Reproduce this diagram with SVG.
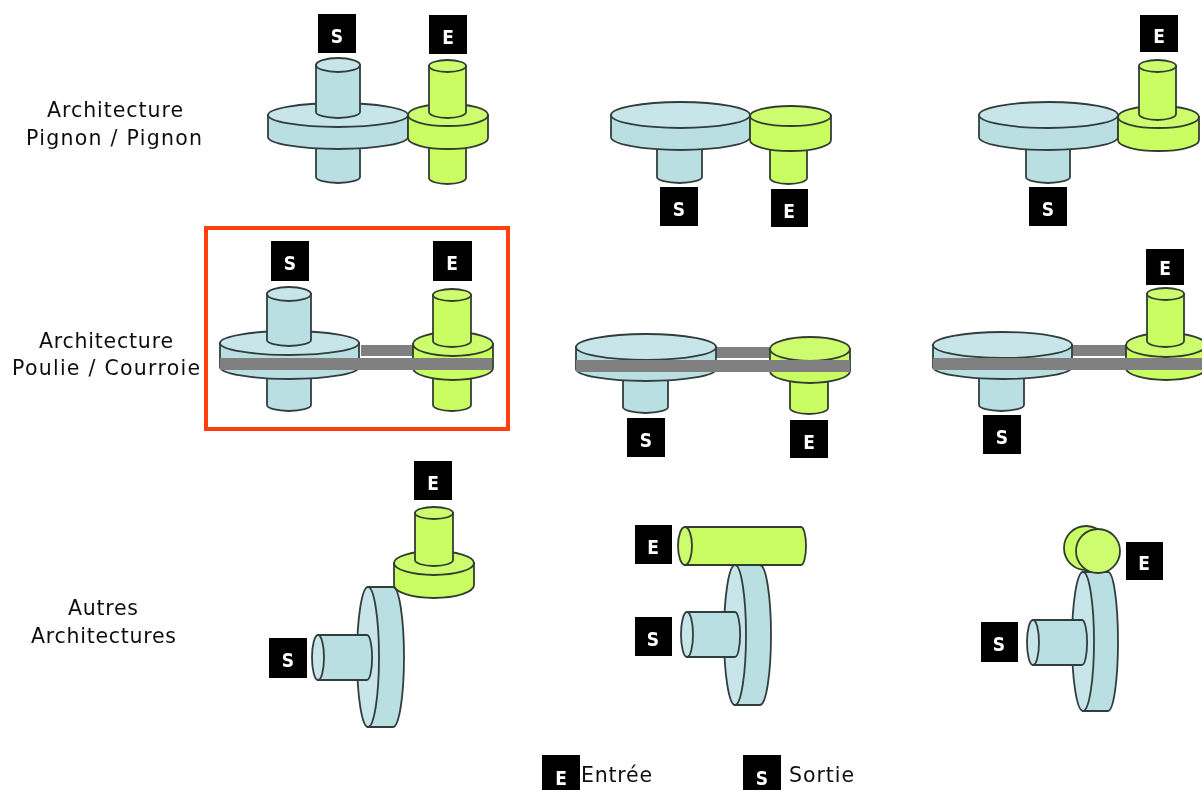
<svg xmlns="http://www.w3.org/2000/svg" width="1202" height="790" viewBox="0 0 1202 790">
<style>
.b{fill:#b9dfe3;stroke:#333d3d;stroke-width:1.8}
.bt{fill:#c8e6ea;stroke:#333d3d;stroke-width:1.8}
.g{fill:#c9fd62;stroke:#333d33;stroke-width:1.8}
.gt{fill:#cdfd6e;stroke:#333d33;stroke-width:1.8}
.belt{fill:#808080}
.k{fill:#000}
.kt{fill:#fff;font:bold 19px "DejaVu Sans Condensed","DejaVu Sans",sans-serif;font-stretch:condensed;text-anchor:middle}
.t{fill:#111;font:20.500px "DejaVu Sans",sans-serif;text-anchor:middle}
.l{fill:#111;font:20.500px "DejaVu Sans",sans-serif}
</style>
<defs><filter id="soft" x="0" y="0" width="100%" height="100%"><feGaussianBlur stdDeviation="0.45"/></filter></defs>
<rect width="1202" height="790" fill="#fff"/>
<g filter="url(#soft)">
<g id="labels">
<text class="t" x="115" y="117" textLength="136">Architecture</text>
<text class="t" x="114" y="145" textLength="176">Pignon / Pignon</text>
<text class="t" x="106" y="348" textLength="134">Architecture</text>
<text class="t" x="106" y="375" textLength="188">Poulie / Courroie</text>
<text class="t" x="103" y="615" textLength="70">Autres</text>
<text class="t" x="103.500" y="643" textLength="145">Architectures</text>
</g>
<rect id="frame" x="206" y="228" width="302" height="201" fill="none" stroke="#ff3f10" stroke-width="4"/>

<g id="pp1">
<path class="b" d="M316 140V177A22 6 0 0 0 360 177V140Z"/>
<path class="b" d="M268 115V137A70 12 0 0 0 408 137V115Z"/>
<ellipse class="bt" cx="338" cy="115" rx="70" ry="12"/>
<path class="b" d="M316 65V112A22 6 0 0 0 360 112V65Z"/>
<ellipse class="bt" cx="338" cy="65" rx="22" ry="7"/>
<path class="g" d="M429 140V178A18.500 6 0 0 0 466 178V140Z"/>
<path class="g" d="M408 115V138A40 11 0 0 0 488 138V115Z"/>
<ellipse class="gt" cx="448" cy="115" rx="40" ry="11"/>
<path class="g" d="M429 66V112A18.500 6 0 0 0 466 112V66Z"/>
<ellipse class="gt" cx="447.500" cy="66" rx="18.500" ry="6"/>
<rect class="k" x="318" y="14" width="38" height="39"/><text class="kt" x="337" y="43">S</text>
<rect class="k" x="429" y="15" width="38" height="39"/><text class="kt" x="448" y="44">E</text>
</g>
<g id="pp2">
<path class="b" d="M657 140V177A22.500 6 0 0 0 702 177V140Z"/>
<path class="b" d="M611 115V137A69.500 13 0 0 0 750 137V115Z"/>
<ellipse class="bt" cx="680.500" cy="115" rx="69.500" ry="13"/>
<path class="g" d="M770 140V178A18.500 6 0 0 0 807 178V140Z"/>
<path class="g" d="M750 116V140A40.500 11 0 0 0 831 140V116Z"/>
<ellipse class="gt" cx="790.500" cy="116" rx="40.500" ry="10"/>
<rect class="k" x="660" y="187" width="38" height="39"/><text class="kt" x="679" y="216">S</text>
<rect class="k" x="771" y="189" width="37" height="38"/><text class="kt" x="789" y="218">E</text>
</g>
<g id="pp3">
<path class="b" d="M1026 140V177A22 6 0 0 0 1070 177V140Z"/>
<path class="b" d="M979 115V137A69.500 13 0 0 0 1118 137V115Z"/>
<ellipse class="bt" cx="1048.500" cy="115" rx="69.500" ry="13"/>
<path class="g" d="M1118 117V140A40.500 11 0 0 0 1199 140V117Z"/>
<ellipse class="gt" cx="1158.500" cy="117" rx="40.500" ry="11"/>
<path class="g" d="M1139 66V114A18.500 6 0 0 0 1176 114V66Z"/>
<ellipse class="gt" cx="1157.500" cy="66" rx="18.500" ry="6"/>
<rect class="k" x="1029" y="187" width="38" height="39"/><text class="kt" x="1048" y="216">S</text>
<rect class="k" x="1140" y="15" width="38" height="37"/><text class="kt" x="1159" y="43">E</text>
</g>

<g id="pc1">
<rect class="belt" x="361" y="345" width="52" height="11"/>
<path class="b" d="M267 370V405A22 6 0 0 0 311 405V370Z"/>
<path class="b" d="M220 343V367A69.500 12 0 0 0 359 367V343Z"/>
<ellipse class="bt" cx="289.500" cy="343" rx="69.500" ry="12"/>
<path class="b" d="M267 294V340A22 6 0 0 0 311 340V294Z"/>
<ellipse class="bt" cx="289" cy="294" rx="22" ry="7"/>
<path class="g" d="M433 370V405A19 6 0 0 0 471 405V370Z"/>
<path class="g" d="M413 344V368A40 12 0 0 0 493 368V344Z"/>
<ellipse class="gt" cx="453" cy="344" rx="40" ry="12"/>
<path class="g" d="M433 295V341A19 6 0 0 0 471 341V295Z"/>
<ellipse class="gt" cx="452" cy="295" rx="19" ry="6"/>
<rect class="belt" x="220" y="358" width="272" height="12"/>
<rect class="k" x="271" y="241" width="38" height="40"/><text class="kt" x="290" y="270">S</text>
<rect class="k" x="433" y="241" width="39" height="40"/><text class="kt" x="452" y="270">E</text>
</g>
<g id="pc2">
<rect class="belt" x="716" y="347" width="54" height="11"/>
<path class="b" d="M623 372V407A22.500 6 0 0 0 668 407V372Z"/>
<path class="b" d="M576 347V369A70 12 0 0 0 716 369V347Z"/>
<ellipse class="bt" cx="646" cy="347" rx="70" ry="13"/>
<path class="g" d="M790 372V408A19 6 0 0 0 828 408V372Z"/>
<path class="g" d="M770 349V371A40 12 0 0 0 850 371V349Z"/>
<ellipse class="gt" cx="810" cy="349" rx="40" ry="12"/>
<rect class="belt" x="576" y="360" width="274" height="12"/>
<rect class="k" x="627" y="418" width="38" height="39"/><text class="kt" x="646" y="447">S</text>
<rect class="k" x="790" y="420" width="38" height="38"/><text class="kt" x="809" y="449">E</text>
</g>
<g id="pc3">
<rect class="belt" x="1072" y="345" width="54" height="11"/>
<path class="b" d="M979 370V405A22.500 6 0 0 0 1024 405V370Z"/>
<path class="b" d="M933 345V367A69.500 12 0 0 0 1072 367V345Z"/>
<ellipse class="bt" cx="1002.500" cy="345" rx="69.500" ry="13"/>
<path class="g" d="M1126 345V368A40 12 0 0 0 1206 368V345Z"/>
<ellipse class="gt" cx="1166" cy="345" rx="40" ry="12"/>
<path class="g" d="M1147 294V341A18.500 6 0 0 0 1184 341V294Z"/>
<ellipse class="gt" cx="1165.500" cy="294" rx="18.500" ry="6"/>
<rect class="belt" x="933" y="358" width="269" height="12"/>
<rect class="k" x="983" y="415" width="38" height="39"/><text class="kt" x="1002" y="444">S</text>
<rect class="k" x="1146" y="249" width="38" height="36"/><text class="kt" x="1165" y="275">E</text>
</g>

<g id="a1">
<path class="b" d="M368 587H393A11 70 0 0 1 393 727H368Z"/>
<ellipse class="bt" cx="368" cy="657" rx="11" ry="70"/>
<path class="b" d="M318 635H367A5 22 0 0 1 367 680H318Z"/>
<ellipse class="bt" cx="318" cy="657.500" rx="6" ry="22.500"/>
<path class="g" d="M394 563V585A40 13 0 0 0 474 585V563Z"/>
<ellipse class="gt" cx="434" cy="563" rx="40" ry="12"/>
<path class="g" d="M415 513V560A19 6 0 0 0 453 560V513Z"/>
<ellipse class="gt" cx="434" cy="513" rx="19" ry="6"/>
<rect class="k" x="414" y="461" width="38" height="39"/><text class="kt" x="433" y="490">E</text>
<rect class="k" x="269" y="638" width="38" height="40"/><text class="kt" x="288" y="667">S</text>
</g>
<g id="a2">
<path class="b" d="M735 565H760A11 70 0 0 1 760 705H735Z"/>
<ellipse class="bt" cx="735" cy="635" rx="11" ry="70"/>
<path class="b" d="M687 612H735A5 22 0 0 1 735 657H687Z"/>
<ellipse class="bt" cx="687" cy="634.500" rx="6" ry="22.500"/>
<path class="g" d="M685 527H801A5 19 0 0 1 801 565H685Z"/>
<ellipse class="gt" cx="685" cy="546" rx="7" ry="19"/>
<rect class="k" x="635" y="525" width="37" height="39"/><text class="kt" x="653" y="554">E</text>
<rect class="k" x="635" y="617" width="37" height="39"/><text class="kt" x="653" y="646">S</text>
</g>
<g id="a3">
<path class="b" d="M1083 572H1108A10 69.500 0 0 1 1108 711H1083Z"/>
<ellipse class="bt" cx="1083" cy="641.500" rx="11" ry="69.500"/>
<path class="b" d="M1033 620H1082A5 22 0 0 1 1082 665H1033Z"/>
<ellipse class="bt" cx="1033" cy="642.500" rx="6" ry="22.500"/>
<circle class="g" cx="1086" cy="548" r="22"/>
<circle class="gt" cx="1098" cy="551" r="22"/>
<rect class="k" x="1126" y="542" width="37" height="38"/><text class="kt" x="1144" y="570">E</text>
<rect class="k" x="981" y="622" width="37" height="40"/><text class="kt" x="999" y="651">S</text>
</g>
<g id="legend">
<rect class="k" x="542" y="755" width="38" height="35"/><text class="kt" x="561" y="785">E</text>
<text class="l" x="581" y="782" textLength="71">Entrée</text>
<rect class="k" x="743" y="755" width="38" height="35"/><text class="kt" x="762" y="785">S</text>
<text class="l" x="789" y="782" textLength="65">Sortie</text>
</g>
</g>
</svg>
